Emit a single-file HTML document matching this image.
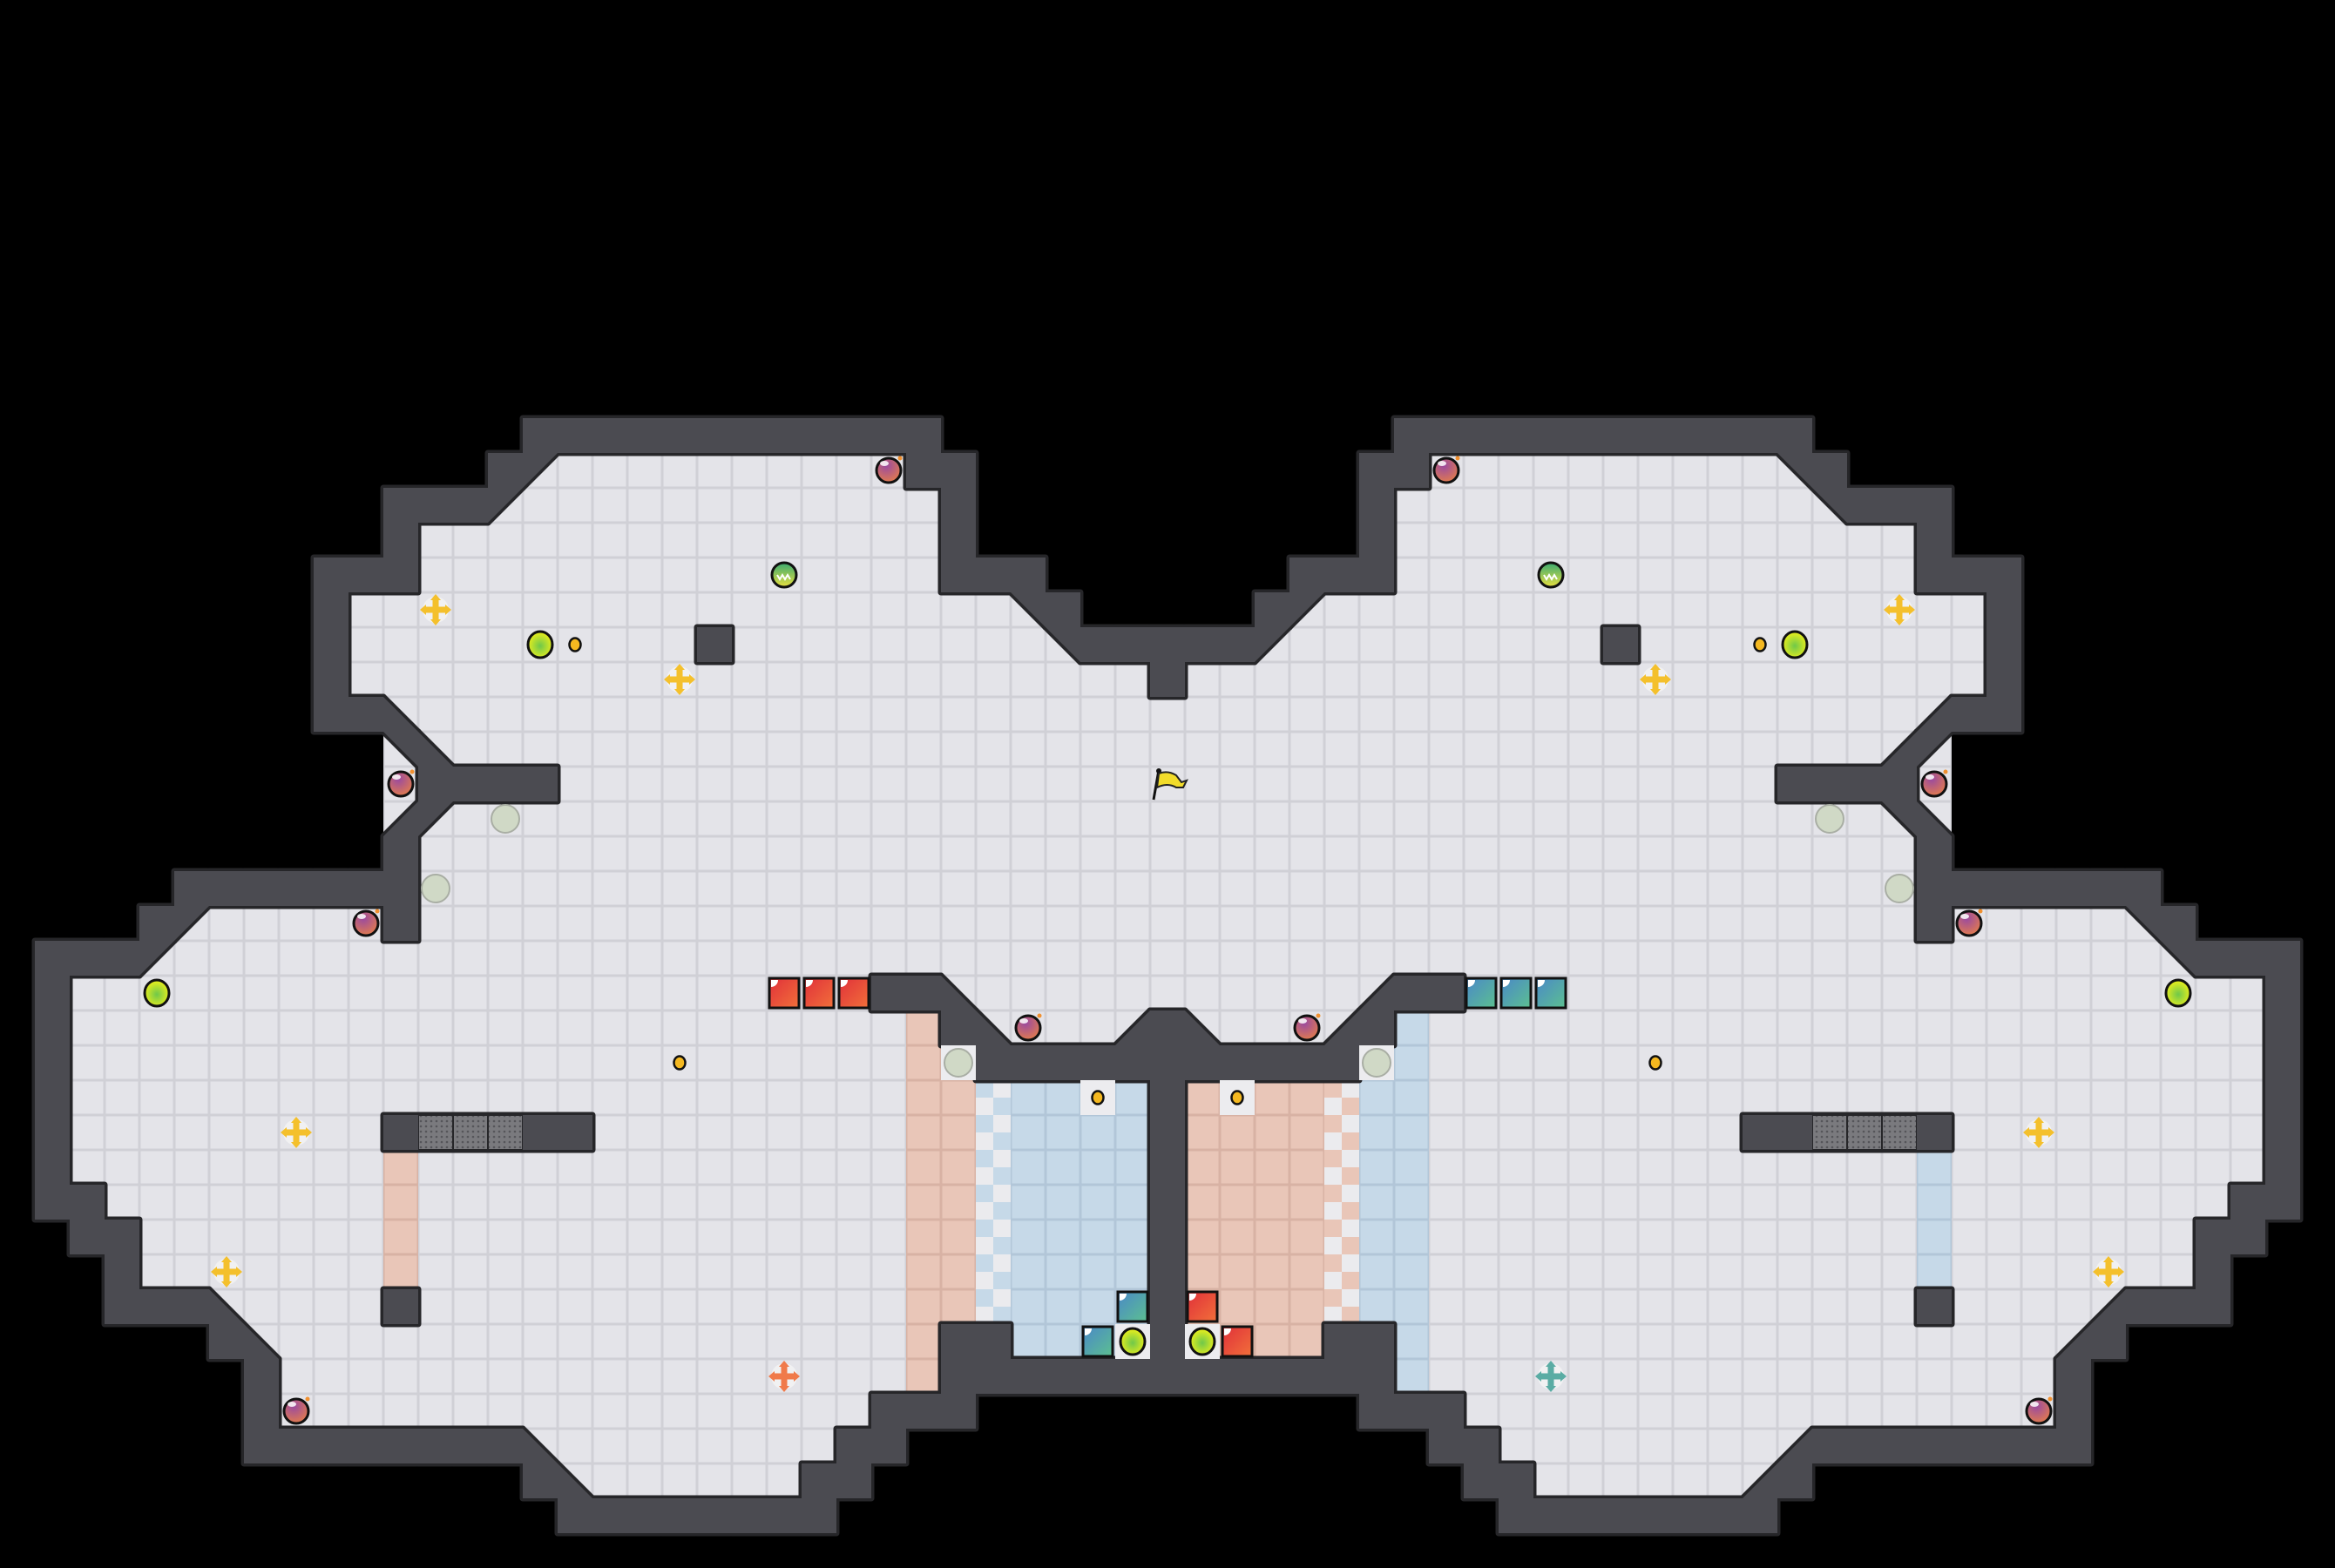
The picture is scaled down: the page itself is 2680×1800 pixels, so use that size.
<!DOCTYPE html>
<html><head><meta charset="utf-8"><style>html,body{margin:0;padding:0;background:#000;}svg{display:block}</style></head>
<body>
<svg id="s" xmlns="http://www.w3.org/2000/svg" width="2680" height="1800" viewBox="0 0 2680 1800">
<defs>
<pattern id="gp" width="6" height="6" patternUnits="userSpaceOnUse"><rect width="6" height="6" fill="#7a7a7e"/><circle cx="3" cy="3" r="1.3" fill="#55555a"/></pattern>
<radialGradient id="bomb" cx="40%" cy="30%" r="70%"><stop offset="0" stop-color="#9a4aa0"/><stop offset="1" stop-color="#e07a50"/></radialGradient>
<radialGradient id="lime" cx="50%" cy="55%" r="55%"><stop offset="0" stop-color="#6fc84a"/><stop offset="1" stop-color="#eef01a"/></radialGradient>
<linearGradient id="spk" x1="0" y1="0" x2="0" y2="1"><stop offset="0" stop-color="#3aaa70"/><stop offset="1" stop-color="#e8e040"/></linearGradient>
<linearGradient id="red" x1="0" y1="0" x2="1" y2="1"><stop offset="0" stop-color="#e0303a"/><stop offset="1" stop-color="#f2703a"/></linearGradient>
<linearGradient id="teal" x1="0" y1="0" x2="1" y2="1"><stop offset="0" stop-color="#4a88c8"/><stop offset="1" stop-color="#5cc090"/></linearGradient>
</defs>
<g id="g"></g>
</svg>
<script>
var R=[
"               ############       ",
"              #a..........##      ",
"           ###a............#      ",
"           #...............#      ",
"         ###...............###    ",
"         #...................b#   ",
"         #..........#.........b###",
"         #.......................#",
"         ##c......................",
"           bc.....................",
"           .####..................",
"           da.....................",
"           #......................",
"     #######......................",
"    #a.....#......................",
" ###a.............................",
" #....................##c......",
" #........................S#c...d#",
" #........................S.######",
" #........................SSkBB.B#",
" #.........#ggg##.........SSkBBBB#",
" #.........S..............SSkBBBB#",
" ##........S..............SSkBBBB#",
"  ##.......S..............SSkBBBB#",
"   #.......S..............SSkBBBB#",
"   ###c....#..............SSkBBBB#",
"      #c..................S##BBB.#",
"       #..................S#######",
"       #.................###      ",
"       ########c........##        ",
"               #c......##         ",
"                ########          "
];
R[16]=" #"+"...................."+"..."+"##c"+"......";
var M={a:'b',b:'a',c:'d',d:'c',S:'B',B:'S',k:'K',K:'k'};
var rows=[];
for(var i=0;i<R.length;i++){var s=R[i];while(s.length<34)s+=' ';s=s.slice(0,34);var f=s;for(var c=34;c<67;c++){var ch=s[66-c];f+=(M[ch]||ch);}rows.push(f);}
var fl='',ws='',wf='',gt='',it='';
function tile(x,y,b,e){return '<rect x="'+x+'" y="'+y+'" width="40" height="40" fill="'+e+'"/><rect x="'+(x+1.5)+'" y="'+(y+1.5)+'" width="37" height="37" fill="'+b+'"/>';}
function poly(p){return '<polygon points="'+p+'"/>';}
for(var i=0;i<rows.length;i++){var r=12+i;var y=r*40;for(var c=0;c<67;c++){var ch=rows[i][c];var x=c*40;
 if(ch==' ')continue;
 if(ch=='.'||'abcd'.indexOf(ch)>=0)fl+=tile(x,y,'#e4e4e9','#d0d0d6');
 if(ch=='S')fl+=tile(x,y,'#e9c6b8','#d8b2a4');
 if(ch=='B')fl+=tile(x,y,'#c6d9e8','#b2c6d8');
 if(ch=='k'||ch=='K'){var col=ch=='k'?'#c6d9e8':'#e9c6b8';fl+='<rect x="'+x+'" y="'+y+'" width="40" height="40" fill="#ebebee"/><rect x="'+x+'" y="'+y+'" width="20" height="20" fill="'+col+'"/><rect x="'+(x+20)+'" y="'+(y+20)+'" width="20" height="20" fill="'+col+'"/>';}
 var p=null;
 if(ch=='#')p=x+','+y+' '+(x+40)+','+y+' '+(x+40)+','+(y+40)+' '+x+','+(y+40);
 if(ch=='a')p=x+','+y+' '+(x+40)+','+y+' '+x+','+(y+40);
 if(ch=='b')p=x+','+y+' '+(x+40)+','+y+' '+(x+40)+','+(y+40);
 if(ch=='c')p=x+','+y+' '+x+','+(y+40)+' '+(x+40)+','+(y+40);
 if(ch=='d')p=(x+40)+','+y+' '+(x+40)+','+(y+40)+' '+x+','+(y+40);
 if(p){ws+=poly(p);wf+=poly(p);}
 if(ch=='g'){var q=x+','+y+' '+(x+40)+','+y+' '+(x+40)+','+(y+40)+' '+x+','+(y+40);ws+=poly(q);gt+='<rect x="'+(x+1)+'" y="'+(y+1)+'" width="38" height="38" fill="url(#gp)"/>';}
}}
function C(c,r){return [c*40+20,r*40+20];}
function bomb(c,r){var p=C(c,r);return '<circle cx="'+p[0]+'" cy="'+p[1]+'" r="14" fill="url(#bomb)" stroke="#111" stroke-width="3"/><ellipse cx="'+(p[0]-5)+'" cy="'+(p[1]-8)+'" rx="5" ry="3" fill="#fff" opacity=".85"/><circle cx="'+(p[0]+13)+'" cy="'+(p[1]-14)+'" r="2.5" fill="#f09030"/>';}
function spk(c,r){var p=C(c,r);return '<circle cx="'+p[0]+'" cy="'+p[1]+'" r="14" fill="url(#spk)" stroke="#111" stroke-width="3"/><path d="M'+(p[0]-8)+','+p[1]+' l3,5 l3,-5 l3,5 l3,-5 l3,5" stroke="#fff" stroke-width="2" fill="none"/>';}
function lime(c,r){var p=C(c,r);return '<ellipse cx="'+p[0]+'" cy="'+p[1]+'" rx="14" ry="15" fill="url(#lime)" stroke="#111" stroke-width="3"/>';}
function dot(c,r){var p=C(c,r);return '<ellipse cx="'+p[0]+'" cy="'+p[1]+'" rx="6.5" ry="7.5" fill="#f4b820" stroke="#111" stroke-width="2.5"/>';}
function gray(c,r,bg){var p=C(c,r);return (bg?'<rect x="'+(c*40)+'" y="'+(r*40)+'" width="40" height="40" fill="#ececef"/>':'')+'<circle cx="'+p[0]+'" cy="'+p[1]+'" r="16" fill="#d0d9c6" stroke="#a9aea4" stroke-width="2"/>';}
function box(c,r,g){var x=c*40+3,y=r*40+3;return '<rect x="'+x+'" y="'+y+'" width="34" height="34" fill="url(#'+g+')" stroke="#111" stroke-width="3"/><path d="M'+(x+2)+','+(y+2)+' h8 a8,8 0 0 1 -8,8 z" fill="#fff"/>';}
function boost(c,r,col){var p=C(c,r),x=p[0],y=p[1];return '<circle cx="'+x+'" cy="'+y+'" r="15" fill="#f4f4f4" opacity=".8"/><rect x="'+(x-3.5)+'" y="'+(y-13)+'" width="7" height="26" fill="'+col+'"/><rect x="'+(x-13)+'" y="'+(y-3.5)+'" width="26" height="7" fill="'+col+'"/><polygon points="'+x+','+(y-18)+' '+(x-6)+','+(y-11)+' '+(x+6)+','+(y-11)+'" fill="'+col+'"/><polygon points="'+x+','+(y+18)+' '+(x-6)+','+(y+11)+' '+(x+6)+','+(y+11)+'" fill="'+col+'"/><polygon points="'+(x-18)+','+y+' '+(x-11)+','+(y-6)+' '+(x-11)+','+(y+6)+'" fill="'+col+'"/><polygon points="'+(x+18)+','+y+' '+(x+11)+','+(y-6)+' '+(x+11)+','+(y+6)+'" fill="'+col+'"/>';}
function mir(c){return 66-c;}
[[25,13],[11,22],[10,26],[29,29],[8,40]].forEach(function(a){it+=bomb(a[0],a[1])+bomb(mir(a[0]),a[1]);});
it+=spk(22,16)+spk(44,16);
[[12,17],[19,19],[8,32],[6,36]].forEach(function(a){it+=boost(a[0],a[1],'#f4c02c')+boost(mir(a[0]),a[1],'#f4c02c');});
[[15,18],[4,28]].forEach(function(a){it+=lime(a[0],a[1])+lime(mir(a[0]),a[1]);});
[[16,18],[19,30]].forEach(function(a){it+=dot(a[0],a[1])+dot(mir(a[0]),a[1]);});
it='<rect x="1240" y="1240" width="40" height="40" fill="#ececef"/><rect x="1400" y="1240" width="40" height="40" fill="#ececef"/><rect x="1280" y="1520" width="40" height="40" fill="#ececef"/><rect x="1360" y="1520" width="40" height="40" fill="#ececef"/>'+it;
it+=dot(31,31)+dot(35,31);
[[14,23],[12,25]].forEach(function(a){it+=gray(a[0],a[1],false)+gray(mir(a[0]),a[1],false);});
it+=gray(27,30,true)+gray(39,30,true);
it+=box(22,28,'red')+box(23,28,'red')+box(24,28,'red')+box(42,28,'teal')+box(43,28,'teal')+box(44,28,'teal');
it+=box(32,37,'teal')+box(31,38,'teal')+box(34,37,'red')+box(35,38,'red');
it+=lime(32,38)+lime(34,38);
it+=boost(22,39,'#f07a4a')+boost(44,39,'#5aaca4');
it+='<line x1="1324" y1="918" x2="1330" y2="884" stroke="#111" stroke-width="3"/><circle cx="1330" cy="885" r="3" fill="#111"/><path d="M1330,888 q10,-4 20,2 l6,8 l6,-2 l-4,8 l-8,0 q-10,-6 -22,0 z" fill="#f2dc2a" stroke="#222" stroke-width="2"/>';
document.getElementById('g').innerHTML=fl+'<g fill="#262629" stroke="#262629" stroke-width="7" stroke-linejoin="round">'+ws+'</g><g fill="#4b4b51">'+wf+'</g>'+gt+it;
</script>
</body></html>
